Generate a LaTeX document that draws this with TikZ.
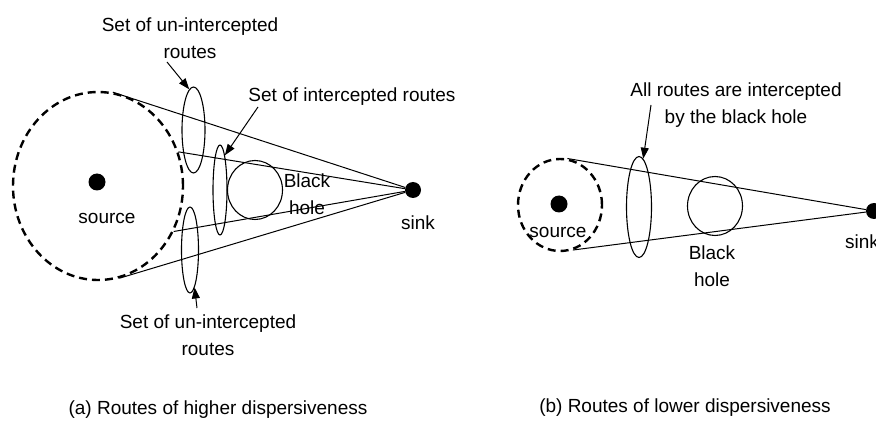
\documentclass[tikz,border=0pt]{standalone}
\usepackage{fontspec}
\setmainfont{Liberation Sans}
\usepackage{tikz}
\usetikzlibrary{shapes.geometric,positioning,calc,arrows.meta}
\tikzset{CLOUD/.style={ellipse,draw,line width=2.4pt,dash pattern=on 8pt off 5pt,inner sep=0pt}}
\tikzset{DOT/.style={circle,fill=black,inner sep=0pt,minimum size=16pt}}
\tikzset{ROUTESET/.style={ellipse,draw,line width=1.1pt,inner sep=0pt}}
\tikzset{HOLE/.style={ellipse,draw,line width=1.1pt,inner sep=0pt,minimum width=55pt,minimum height=59pt}}
\tikzset{ROUTE/.style={line width=1pt}}
\tikzset{ARROW/.style={line width=1pt, -{Triangle[length=11pt,width=8pt]}}}
\tikzset{LABEL/.style={align=center,inner sep=0pt,font=\fontsize{19}{27}\selectfont}}
\tikzset{CAPTION/.style={inner sep=0pt,font=\fontsize{19}{23}\selectfont}}

\begin{document}
\begin{tikzpicture}[x=1pt,y=-1pt]
\useasboundingbox (0,0) rectangle (876,422);
\fill[white] (0,0) rectangle (876,422);

% (a) higher dispersiveness
\node[CLOUD, minimum width=170pt, minimum height=188pt] (n_cloudA) at (98,186) {};
\node[DOT, minimum size=17pt] (n_sourceA) at (97,182) {};
\node[DOT] (n_sinkA) at (413,190) {};
\node[LABEL] (n_sourceA_lbl) at (107,218) {source};
\node[LABEL] (n_sinkA_lbl) at (418,223) {sink};

\draw[ROUTE] (n_cloudA.81) -- (n_sinkA);
\draw[ROUTE] (n_cloudA.23) -- (n_sinkA);
\draw[ROUTE] (n_cloudA.-31) -- (n_sinkA);
\draw[ROUTE] (n_cloudA.-77) -- (n_sinkA);

\node[ROUTESET, minimum width=23pt, minimum height=86pt] (n_freeTop) at (193.5,130) {};
\node[ROUTESET, minimum width=14pt, minimum height=90pt] (n_caught) at (220,190) {};
\node[ROUTESET, minimum width=17pt, minimum height=86pt] (n_freeBot) at (190,250) {};
\node[HOLE] (n_holeA) at (255,190) {};
\node[LABEL] (n_holeA_lbl) at (307,194) {Black\\hole};

\node[LABEL] (n_freeTop_lbl) at (190,38) {Set of un-intercepted\\routes};
\node[LABEL] (n_caught_lbl) at (352,97) {Set of intercepted routes};
\node[LABEL] (n_freeBot_lbl) at (208,335) {Set of un-intercepted\\routes};

\coordinate (c_freeTop_tail) at (167,62);
\coordinate (c_caught_tail) at (258,107);
\coordinate (c_freeBot_tail) at (197,308);
\draw[ARROW] (c_freeTop_tail) -- (n_freeTop.96);
\draw[ARROW] (c_caught_tail) -- (n_caught.82);
\draw[ARROW] (c_freeBot_tail) -- (n_freeBot.-83);

\node[CAPTION] (n_captionA) at (218,410) {(a) Routes of higher dispersiveness};

% (b) lower dispersiveness
\node[CLOUD, minimum width=84pt, minimum height=92pt] (n_cloudB) at (560,205) {};
\node[DOT, minimum size=17pt] (n_sourceB) at (559,204) {};
\node[DOT] (n_sinkB) at (874,211) {};
\node[LABEL] (n_sourceB_lbl) at (558,232) {source};
\node[LABEL] (n_sinkB_lbl) at (862,242) {sink};

\draw[ROUTE] (n_cloudB.81) -- (n_sinkB);
\draw[ROUTE] (n_cloudB.-74) -- (n_sinkB);

\node[ROUTESET, minimum width=25pt, minimum height=101pt] (n_allSet) at (639,207) {};
\node[HOLE] (n_holeB) at (715,206) {};
\node[LABEL] (n_holeB_lbl) at (712,266) {Black\\hole};

\node[LABEL] (n_allSet_lbl) at (736,105) {All routes are intercepted\\by the black hole};
\coordinate (c_allSet_tail) at (651,105);
\draw[ARROW] (c_allSet_tail) -- (n_allSet.85);

\node[CAPTION] (n_captionB) at (685,408) {(b) Routes of lower dispersiveness};

\end{tikzpicture}
\end{document}
